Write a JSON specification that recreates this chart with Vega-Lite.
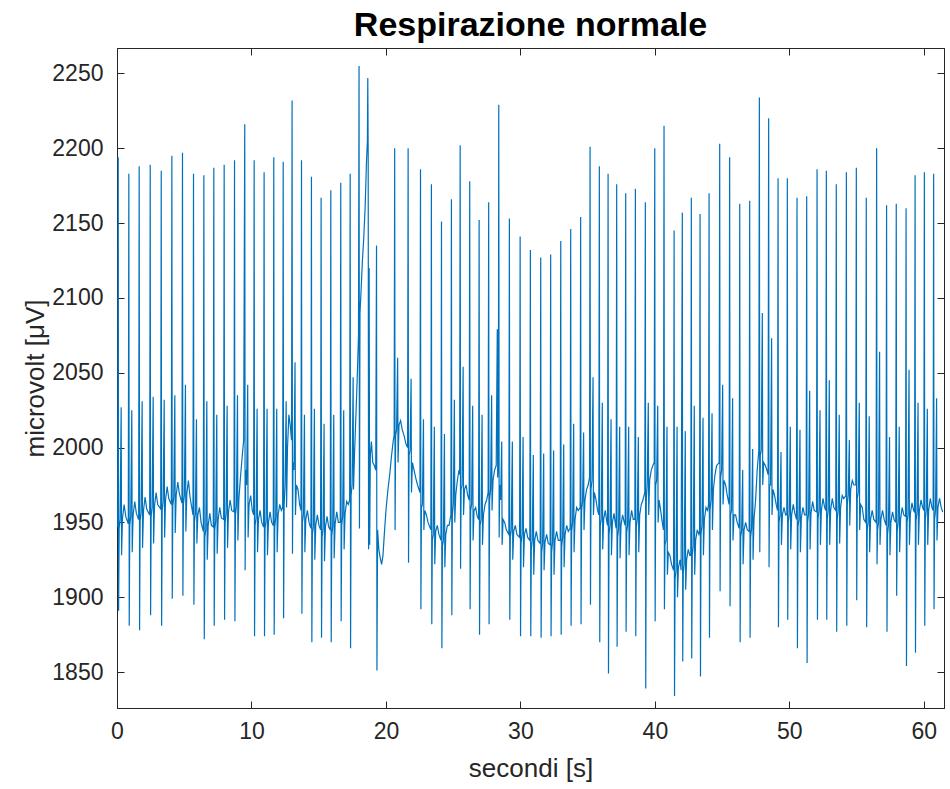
{
"$schema": "https://vega.github.io/schema/vega-lite/v6.json",
"autosize": {"type": "none"},
"padding": {"left": 117, "top": 48, "right": 5, "bottom": 81},
"width": 827,
"height": 660,
"background": "white",
"title": {"text": "Respirazione normale", "font": "Liberation Sans", "fontSize": 34, "fontWeight": "bold", "color": "#000000", "anchor": "middle", "offset": 5},
"config": {
  "view": {"stroke": "#262626", "strokeWidth": 1},
  "axis": {"domainColor": "#262626", "tickColor": "#262626", "labelColor": "#262626", "titleColor": "#262626", "labelFont": "Liberation Sans", "titleFont": "Liberation Sans", "labelFontSize": 23, "titleFontSize": 26, "titleFontWeight": "normal", "grid": false, "tickSize": -7, "labelPadding": 17, "labelFlush": false, "labelOverlap": false}
},
"data": {"values": [
{"t":0.00,"v":1952},{"t":0.05,"v":1947},{"t":0.09,"v":2194},{"t":0.12,"v":1891},{"t":0.16,"v":1946},{"t":0.23,"v":1952},{"t":0.31,"v":2027},{"t":0.34,"v":1928},{"t":0.41,"v":1953},{"t":0.53,"v":1962},{"t":0.65,"v":1954},
{"t":0.84,"v":1949},{"t":0.88,"v":2183},{"t":0.91,"v":1881},{"t":0.95,"v":1948},{"t":1.02,"v":1954},{"t":1.10,"v":2025},{"t":1.13,"v":1930},{"t":1.20,"v":1955},{"t":1.32,"v":1964},{"t":1.44,"v":1956},
{"t":1.61,"v":1952},{"t":1.65,"v":2188},{"t":1.68,"v":1878},{"t":1.72,"v":1951},{"t":1.79,"v":1957},{"t":1.87,"v":2031},{"t":1.90,"v":1933},{"t":1.97,"v":1958},{"t":2.09,"v":1967},{"t":2.21,"v":1959},
{"t":2.43,"v":1955},{"t":2.47,"v":2189},{"t":2.50,"v":1888},{"t":2.54,"v":1954},{"t":2.61,"v":1960},{"t":2.69,"v":2034},{"t":2.72,"v":1936},{"t":2.79,"v":1961},{"t":2.91,"v":1970},{"t":3.03,"v":1962},
{"t":3.25,"v":1959},{"t":3.29,"v":2185},{"t":3.32,"v":1881},{"t":3.36,"v":1958},{"t":3.43,"v":1964},{"t":3.51,"v":2032},{"t":3.54,"v":1940},{"t":3.61,"v":1965},{"t":3.73,"v":1974},{"t":3.85,"v":1966},
{"t":4.04,"v":1962},{"t":4.08,"v":2195},{"t":4.11,"v":1899},{"t":4.15,"v":1961},{"t":4.22,"v":1967},{"t":4.30,"v":2035},{"t":4.33,"v":1943},{"t":4.40,"v":1968},{"t":4.52,"v":1977},{"t":4.64,"v":1969},
{"t":4.83,"v":1963},{"t":4.87,"v":2197},{"t":4.90,"v":1901},{"t":4.94,"v":1962},{"t":5.01,"v":1968},{"t":5.09,"v":2042},{"t":5.12,"v":1944},{"t":5.19,"v":1969},{"t":5.31,"v":1978},{"t":5.43,"v":1967},
{"t":5.65,"v":1955},{"t":5.69,"v":2183},{"t":5.72,"v":1895},{"t":5.76,"v":1950},{"t":5.83,"v":1956},{"t":5.91,"v":2019},{"t":5.94,"v":1936},{"t":6.01,"v":1955},{"t":6.13,"v":1960},{"t":6.25,"v":1950},
{"t":6.42,"v":1944},{"t":6.46,"v":2182},{"t":6.49,"v":1872},{"t":6.53,"v":1940},{"t":6.60,"v":1945},{"t":6.68,"v":2031},{"t":6.71,"v":1925},{"t":6.78,"v":1948},{"t":6.90,"v":1956},{"t":7.02,"v":1948},
{"t":7.16,"v":1947},{"t":7.20,"v":2187},{"t":7.23,"v":1881},{"t":7.27,"v":1945},{"t":7.34,"v":1951},{"t":7.42,"v":2022},{"t":7.45,"v":1929},{"t":7.52,"v":1952},{"t":7.64,"v":1960},{"t":7.76,"v":1953},
{"t":7.93,"v":1952},{"t":7.97,"v":2189},{"t":8.00,"v":1885},{"t":8.04,"v":1950},{"t":8.11,"v":1956},{"t":8.19,"v":2028},{"t":8.22,"v":1933},{"t":8.29,"v":1957},{"t":8.41,"v":1965},{"t":8.53,"v":1958},
{"t":8.70,"v":1957},{"t":8.74,"v":2192},{"t":8.77,"v":1884},{"t":8.81,"v":1955},{"t":8.88,"v":1961},{"t":8.96,"v":2035},{"t":8.99,"v":1938},{"t":9.06,"v":1965},{"t":9.18,"v":1980},{"t":9.30,"v":1993},{"t":9.42,"v":2005},
{"t":9.50,"v":2216},{"t":9.53,"v":1918},{"t":9.57,"v":1985},{"t":9.64,"v":1975},{"t":9.72,"v":2042},{"t":9.75,"v":1940},{"t":9.82,"v":1962},{"t":9.94,"v":1968},{"t":10.06,"v":1958},{"t":10.16,"v":1955},
{"t":10.20,"v":2192},{"t":10.23,"v":1874},{"t":10.27,"v":1948},{"t":10.34,"v":1953},{"t":10.42,"v":2026},{"t":10.45,"v":1930},{"t":10.52,"v":1952},{"t":10.64,"v":1958},{"t":10.76,"v":1950},{"t":10.90,"v":1947},
{"t":10.94,"v":2184},{"t":10.97,"v":1874},{"t":11.01,"v":1946},{"t":11.08,"v":1951},{"t":11.16,"v":2026},{"t":11.19,"v":1928},{"t":11.26,"v":1950},{"t":11.38,"v":1957},{"t":11.50,"v":1950},{"t":11.62,"v":1948},
{"t":11.66,"v":2194},{"t":11.69,"v":1875},{"t":11.73,"v":1947},{"t":11.80,"v":1953},{"t":11.88,"v":2026},{"t":11.91,"v":1930},{"t":11.98,"v":1955},{"t":12.10,"v":1962},{"t":12.22,"v":1958},{"t":12.32,"v":1960},
{"t":12.36,"v":2191},{"t":12.39,"v":1886},{"t":12.43,"v":1962},{"t":12.50,"v":1975},{"t":12.58,"v":2031},{"t":12.61,"v":1960},{"t":12.68,"v":2000},{"t":12.78,"v":2022},{"t":12.88,"v":2015},{"t":12.98,"v":2005},
{"t":13.02,"v":2232},{"t":13.05,"v":1929},{"t":13.09,"v":1990},{"t":13.16,"v":1985},{"t":13.24,"v":2057},{"t":13.27,"v":1955},{"t":13.34,"v":1975},{"t":13.46,"v":1972},{"t":13.58,"v":1962},{"t":13.68,"v":1958},
{"t":13.72,"v":2192},{"t":13.75,"v":1889},{"t":13.79,"v":1950},{"t":13.86,"v":1955},{"t":13.94,"v":2022},{"t":13.97,"v":1930},{"t":14.04,"v":1952},{"t":14.16,"v":1958},{"t":14.28,"v":1950},{"t":14.42,"v":1946},
{"t":14.46,"v":2181},{"t":14.49,"v":1870},{"t":14.53,"v":1942},{"t":14.60,"v":1947},{"t":14.68,"v":2026},{"t":14.71,"v":1925},{"t":14.78,"v":1948},{"t":14.90,"v":1955},{"t":15.02,"v":1948},{"t":15.14,"v":1945},
{"t":15.18,"v":2167},{"t":15.21,"v":1873},{"t":15.25,"v":1940},{"t":15.32,"v":1946},{"t":15.40,"v":2016},{"t":15.43,"v":1924},{"t":15.50,"v":1947},{"t":15.62,"v":1954},{"t":15.74,"v":1947},{"t":15.86,"v":1945},
{"t":15.90,"v":2172},{"t":15.93,"v":1870},{"t":15.97,"v":1941},{"t":16.04,"v":1947},{"t":16.12,"v":2022},{"t":16.15,"v":1926},{"t":16.22,"v":1949},{"t":16.34,"v":1957},{"t":16.46,"v":1950},{"t":16.60,"v":1950},
{"t":16.64,"v":2177},{"t":16.67,"v":1884},{"t":16.71,"v":1948},{"t":16.78,"v":1954},{"t":16.86,"v":2025},{"t":16.89,"v":1932},{"t":16.96,"v":1956},{"t":17.08,"v":1964},{"t":17.20,"v":1962},{"t":17.30,"v":1965},
{"t":17.34,"v":2183},{"t":17.37,"v":1866},{"t":17.41,"v":1968},{"t":17.48,"v":1975},{"t":17.56,"v":2047},{"t":17.59,"v":1972},{"t":17.66,"v":1995},{"t":17.76,"v":2020},{"t":17.86,"v":2045},{"t":17.96,"v":2075},
{"t":18.00,"v":2255},{"t":18.03,"v":1946},{"t":18.07,"v":2090},{"t":18.15,"v":2105},{"t":18.25,"v":2125},{"t":18.35,"v":2140},{"t":18.45,"v":2160},{"t":18.55,"v":2190},{"t":18.62,"v":2205},
{"t":18.65,"v":2247},{"t":18.68,"v":2195},{"t":18.71,"v":1932},{"t":18.75,"v":2120},{"t":18.79,"v":1935},{"t":18.84,"v":1995},{"t":18.92,"v":2004},{"t":19.02,"v":1990},{"t":19.14,"v":1988},{"t":19.24,"v":1985},
{"t":19.30,"v":2135},{"t":19.33,"v":1851},{"t":19.38,"v":1945},{"t":19.47,"v":1932},{"t":19.58,"v":1926},{"t":19.68,"v":1922},{"t":19.78,"v":1928},{"t":19.90,"v":1945},{"t":20.02,"v":1960},{"t":20.15,"v":1972},{"t":20.28,"v":1982},{"t":20.42,"v":1995},{"t":20.55,"v":2005},{"t":20.61,"v":2008},
{"t":20.65,"v":2200},{"t":20.68,"v":1945},{"t":20.72,"v":2008},{"t":20.79,"v":2012},{"t":20.87,"v":2060},{"t":20.90,"v":1990},{"t":20.97,"v":2015},{"t":21.09,"v":2018},{"t":21.21,"v":2012},{"t":21.35,"v":2008},{"t":21.50,"v":2002},{"t":21.61,"v":2000},
{"t":21.65,"v":2200},{"t":21.68,"v":1923},{"t":21.72,"v":1995},{"t":21.79,"v":1998},{"t":21.87,"v":2046},{"t":21.90,"v":1970},{"t":21.97,"v":1990},{"t":22.09,"v":1985},{"t":22.21,"v":1980},{"t":22.35,"v":1975},{"t":22.53,"v":1970},
{"t":22.57,"v":2186},{"t":22.60,"v":1892},{"t":22.64,"v":1960},{"t":22.71,"v":1962},{"t":22.79,"v":2019},{"t":22.82,"v":1945},{"t":22.89,"v":1958},{"t":23.01,"v":1955},{"t":23.13,"v":1950},{"t":23.34,"v":1945},
{"t":23.38,"v":2176},{"t":23.41,"v":1882},{"t":23.45,"v":1938},{"t":23.52,"v":1942},{"t":23.60,"v":2014},{"t":23.63,"v":1922},{"t":23.70,"v":1944},{"t":23.82,"v":1948},{"t":23.94,"v":1942},{"t":24.09,"v":1938},
{"t":24.13,"v":2151},{"t":24.16,"v":1866},{"t":24.20,"v":1934},{"t":24.27,"v":1938},{"t":24.35,"v":2009},{"t":24.38,"v":1920},{"t":24.45,"v":1942},{"t":24.57,"v":1948},{"t":24.69,"v":1948},{"t":24.83,"v":1955},
{"t":24.87,"v":2166},{"t":24.90,"v":1888},{"t":24.94,"v":1955},{"t":25.01,"v":1962},{"t":25.09,"v":2032},{"t":25.12,"v":1950},{"t":25.19,"v":1968},{"t":25.31,"v":1978},{"t":25.43,"v":1985},{"t":25.48,"v":1982},
{"t":25.52,"v":2202},{"t":25.55,"v":1919},{"t":25.59,"v":1972},{"t":25.66,"v":1975},{"t":25.74,"v":2054},{"t":25.77,"v":1955},{"t":25.84,"v":1972},{"t":25.96,"v":1975},{"t":26.08,"v":1968},{"t":26.19,"v":1965},
{"t":26.23,"v":2178},{"t":26.26,"v":1892},{"t":26.30,"v":1958},{"t":26.37,"v":1962},{"t":26.45,"v":2028},{"t":26.48,"v":1938},{"t":26.55,"v":1958},{"t":26.67,"v":1960},{"t":26.79,"v":1954},{"t":26.89,"v":1952},
{"t":26.93,"v":2152},{"t":26.96,"v":1875},{"t":27.00,"v":1948},{"t":27.07,"v":1952},{"t":27.15,"v":2022},{"t":27.18,"v":1935},{"t":27.25,"v":1955},{"t":27.37,"v":1962},{"t":27.49,"v":1965},{"t":27.60,"v":1970},
{"t":27.64,"v":2164},{"t":27.67,"v":1882},{"t":27.71,"v":1965},{"t":27.78,"v":1972},{"t":27.86,"v":2035},{"t":27.89,"v":1958},{"t":27.96,"v":1978},{"t":28.08,"v":1985},{"t":28.20,"v":1988},{"t":28.28,"v":2079},{"t":28.31,"v":1980},{"t":28.36,"v":1990},
{"t":28.39,"v":2229},{"t":28.42,"v":1940},{"t":28.46,"v":1975},{"t":28.53,"v":1965},{"t":28.61,"v":2004},{"t":28.64,"v":1935},{"t":28.71,"v":1952},{"t":28.83,"v":1950},{"t":28.95,"v":1945},{"t":29.14,"v":1942},
{"t":29.18,"v":2153},{"t":29.21,"v":1885},{"t":29.25,"v":1940},{"t":29.32,"v":1945},{"t":29.40,"v":2004},{"t":29.43,"v":1925},{"t":29.50,"v":1944},{"t":29.62,"v":1948},{"t":29.74,"v":1942},{"t":29.94,"v":1940},
{"t":29.98,"v":2141},{"t":30.01,"v":1874},{"t":30.05,"v":1936},{"t":30.12,"v":1942},{"t":30.20,"v":2007},{"t":30.23,"v":1920},{"t":30.30,"v":1942},{"t":30.42,"v":1946},{"t":30.54,"v":1940},{"t":30.70,"v":1938},
{"t":30.74,"v":2132},{"t":30.77,"v":1874},{"t":30.81,"v":1932},{"t":30.88,"v":1938},{"t":30.96,"v":1995},{"t":30.99,"v":1915},{"t":31.06,"v":1938},{"t":31.18,"v":1944},{"t":31.30,"v":1938},{"t":31.47,"v":1936},
{"t":31.51,"v":2127},{"t":31.54,"v":1873},{"t":31.58,"v":1930},{"t":31.65,"v":1936},{"t":31.73,"v":1996},{"t":31.76,"v":1918},{"t":31.83,"v":1937},{"t":31.95,"v":1942},{"t":32.07,"v":1936},{"t":32.21,"v":1935},
{"t":32.25,"v":2129},{"t":32.28,"v":1874},{"t":32.32,"v":1930},{"t":32.39,"v":1937},{"t":32.47,"v":1998},{"t":32.50,"v":1915},{"t":32.57,"v":1938},{"t":32.69,"v":1944},{"t":32.81,"v":1938},{"t":32.96,"v":1938},
{"t":33.00,"v":2138},{"t":33.03,"v":1875},{"t":33.07,"v":1934},{"t":33.14,"v":1940},{"t":33.22,"v":2002},{"t":33.25,"v":1920},{"t":33.32,"v":1942},{"t":33.44,"v":1948},{"t":33.56,"v":1944},{"t":33.70,"v":1946},
{"t":33.74,"v":2146},{"t":33.77,"v":1881},{"t":33.81,"v":1944},{"t":33.88,"v":1950},{"t":33.96,"v":2016},{"t":33.99,"v":1930},{"t":34.06,"v":1952},{"t":34.18,"v":1960},{"t":34.30,"v":1958},{"t":34.44,"v":1960},
{"t":34.48,"v":2154},{"t":34.51,"v":1882},{"t":34.55,"v":1958},{"t":34.62,"v":1964},{"t":34.70,"v":2010},{"t":34.73,"v":1945},{"t":34.80,"v":1965},{"t":34.92,"v":1972},{"t":35.04,"v":1975},{"t":35.14,"v":1980},
{"t":35.18,"v":2201},{"t":35.21,"v":1895},{"t":35.25,"v":1972},{"t":35.32,"v":1978},{"t":35.40,"v":2047},{"t":35.43,"v":1955},{"t":35.50,"v":1970},{"t":35.62,"v":1965},{"t":35.74,"v":1958},{"t":35.83,"v":1955},
{"t":35.87,"v":2188},{"t":35.90,"v":1870},{"t":35.94,"v":1948},{"t":36.01,"v":1952},{"t":36.09,"v":2030},{"t":36.12,"v":1932},{"t":36.19,"v":1952},{"t":36.31,"v":1958},{"t":36.43,"v":1950},{"t":36.48,"v":1948},
{"t":36.52,"v":2183},{"t":36.55,"v":1849},{"t":36.59,"v":1942},{"t":36.66,"v":1948},{"t":36.74,"v":2019},{"t":36.77,"v":1928},{"t":36.84,"v":1950},{"t":36.96,"v":1956},{"t":37.08,"v":1948},{"t":37.12,"v":1946},
{"t":37.16,"v":2176},{"t":37.19,"v":1867},{"t":37.23,"v":1940},{"t":37.30,"v":1946},{"t":37.38,"v":2014},{"t":37.41,"v":1926},{"t":37.48,"v":1948},{"t":37.60,"v":1955},{"t":37.72,"v":1950},{"t":37.79,"v":1948},
{"t":37.83,"v":2170},{"t":37.86,"v":1877},{"t":37.90,"v":1943},{"t":37.97,"v":1948},{"t":38.05,"v":2014},{"t":38.08,"v":1928},{"t":38.15,"v":1950},{"t":38.27,"v":1958},{"t":38.39,"v":1952},{"t":38.51,"v":1952},
{"t":38.55,"v":2173},{"t":38.58,"v":1874},{"t":38.62,"v":1947},{"t":38.69,"v":1952},{"t":38.77,"v":2007},{"t":38.80,"v":1930},{"t":38.87,"v":1955},{"t":38.99,"v":1962},{"t":39.11,"v":1965},{"t":39.25,"v":1970},
{"t":39.29,"v":2164},{"t":39.32,"v":1839},{"t":39.36,"v":1965},{"t":39.43,"v":1975},{"t":39.51,"v":2030},{"t":39.54,"v":1955},{"t":39.61,"v":1978},{"t":39.73,"v":1985},{"t":39.85,"v":1988},{"t":39.95,"v":1990},
{"t":39.99,"v":2200},{"t":40.02,"v":1884},{"t":40.06,"v":1975},{"t":40.13,"v":1978},{"t":40.21,"v":2028},{"t":40.24,"v":1950},{"t":40.31,"v":1965},{"t":40.43,"v":1958},{"t":40.55,"v":1950},{"t":40.64,"v":1945},
{"t":40.68,"v":2215},{"t":40.71,"v":1892},{"t":40.75,"v":1935},{"t":40.82,"v":1938},{"t":40.90,"v":2014},{"t":40.93,"v":1915},{"t":41.00,"v":1930},{"t":41.12,"v":1928},{"t":41.24,"v":1922},{"t":41.39,"v":1918},
{"t":41.43,"v":2145},{"t":41.46,"v":1834},{"t":41.50,"v":1912},{"t":41.57,"v":1918},{"t":41.65,"v":2014},{"t":41.68,"v":1900},{"t":41.75,"v":1920},{"t":41.87,"v":1925},{"t":41.95,"v":1918},
{"t":42.04,"v":2157},{"t":42.07,"v":1857},{"t":42.11,"v":1916},{"t":42.18,"v":1922},{"t":42.26,"v":2011},{"t":42.29,"v":1905},{"t":42.36,"v":1925},{"t":42.48,"v":1932},{"t":42.60,"v":1928},{"t":42.67,"v":1928},
{"t":42.71,"v":2167},{"t":42.74,"v":1859},{"t":42.78,"v":1928},{"t":42.85,"v":1934},{"t":42.93,"v":2028},{"t":42.96,"v":1915},{"t":43.03,"v":1938},{"t":43.15,"v":1945},{"t":43.27,"v":1942},{"t":43.32,"v":1944},
{"t":43.36,"v":2156},{"t":43.39,"v":1847},{"t":43.43,"v":1942},{"t":43.50,"v":1948},{"t":43.58,"v":2020},{"t":43.61,"v":1928},{"t":43.68,"v":1952},{"t":43.80,"v":1960},{"t":43.92,"v":1958},{"t":43.99,"v":1962},
{"t":44.03,"v":2170},{"t":44.06,"v":1873},{"t":44.10,"v":1958},{"t":44.17,"v":1965},{"t":44.25,"v":2023},{"t":44.28,"v":1945},{"t":44.35,"v":1972},{"t":44.47,"v":1982},{"t":44.59,"v":1988},{"t":44.78,"v":1990},
{"t":44.82,"v":2203},{"t":44.85,"v":1904},{"t":44.89,"v":1980},{"t":44.96,"v":1985},{"t":45.04,"v":2042},{"t":45.07,"v":1962},{"t":45.14,"v":1978},{"t":45.26,"v":1975},{"t":45.38,"v":1968},{"t":45.52,"v":1962},
{"t":45.56,"v":2194},{"t":45.59,"v":1894},{"t":45.63,"v":1955},{"t":45.70,"v":1958},{"t":45.78,"v":2033},{"t":45.81,"v":1938},{"t":45.88,"v":1955},{"t":46.00,"v":1955},{"t":46.12,"v":1950},{"t":46.27,"v":1946},
{"t":46.31,"v":2163},{"t":46.34,"v":1870},{"t":46.38,"v":1940},{"t":46.45,"v":1945},{"t":46.53,"v":1985},{"t":46.56,"v":1922},{"t":46.63,"v":1945},{"t":46.75,"v":1950},{"t":46.87,"v":1945},{"t":47.01,"v":1944},
{"t":47.05,"v":2165},{"t":47.08,"v":1873},{"t":47.12,"v":1940},{"t":47.19,"v":1946},{"t":47.27,"v":1999},{"t":47.30,"v":1925},{"t":47.37,"v":1952},{"t":47.49,"v":1965},{"t":47.61,"v":1985},{"t":47.73,"v":1998},
{"t":47.77,"v":2234},{"t":47.80,"v":1930},{"t":47.84,"v":1995},{"t":47.91,"v":1998},{"t":47.99,"v":2090},{"t":48.02,"v":1975},{"t":48.09,"v":1990},{"t":48.21,"v":1988},{"t":48.33,"v":1985},{"t":48.42,"v":1982},
{"t":48.46,"v":2220},{"t":48.49,"v":1920},{"t":48.53,"v":1975},{"t":48.60,"v":1975},{"t":48.68,"v":2073},{"t":48.71,"v":1955},{"t":48.78,"v":1972},{"t":48.90,"v":1968},{"t":49.02,"v":1962},{"t":49.12,"v":1958},
{"t":49.16,"v":2180},{"t":49.19,"v":1880},{"t":49.23,"v":1950},{"t":49.30,"v":1955},{"t":49.38,"v":1997},{"t":49.41,"v":1935},{"t":49.48,"v":1955},{"t":49.60,"v":1960},{"t":49.72,"v":1955},{"t":49.81,"v":1955},
{"t":49.85,"v":2180},{"t":49.88,"v":1885},{"t":49.92,"v":1950},{"t":49.99,"v":1955},{"t":50.07,"v":2014},{"t":50.10,"v":1932},{"t":50.17,"v":1955},{"t":50.29,"v":1962},{"t":50.41,"v":1956},{"t":50.53,"v":1952},
{"t":50.57,"v":2167},{"t":50.60,"v":1866},{"t":50.64,"v":1947},{"t":50.71,"v":1952},{"t":50.79,"v":2012},{"t":50.82,"v":1930},{"t":50.89,"v":1953},{"t":51.01,"v":1960},{"t":51.13,"v":1955},{"t":51.25,"v":1955},
{"t":51.29,"v":2168},{"t":51.32,"v":1856},{"t":51.36,"v":1950},{"t":51.43,"v":1956},{"t":51.51,"v":2038},{"t":51.54,"v":1932},{"t":51.61,"v":1956},{"t":51.73,"v":1964},{"t":51.85,"v":1958},{"t":52.02,"v":1957},
{"t":52.06,"v":2186},{"t":52.09,"v":1885},{"t":52.13,"v":1952},{"t":52.20,"v":1958},{"t":52.28,"v":2025},{"t":52.31,"v":1935},{"t":52.38,"v":1958},{"t":52.50,"v":1966},{"t":52.62,"v":1960},{"t":52.71,"v":1958},
{"t":52.75,"v":2185},{"t":52.78,"v":1885},{"t":52.82,"v":1952},{"t":52.89,"v":1958},{"t":52.97,"v":2045},{"t":53.00,"v":1935},{"t":53.07,"v":1958},{"t":53.19,"v":1966},{"t":53.31,"v":1960},{"t":53.45,"v":1958},
{"t":53.49,"v":2176},{"t":53.52,"v":1877},{"t":53.56,"v":1952},{"t":53.63,"v":1958},{"t":53.71,"v":2022},{"t":53.74,"v":1936},{"t":53.81,"v":1960},{"t":53.93,"v":1968},{"t":54.05,"v":1966},{"t":54.20,"v":1968},
{"t":54.24,"v":2184},{"t":54.27,"v":1881},{"t":54.31,"v":1962},{"t":54.38,"v":1968},{"t":54.46,"v":2005},{"t":54.49,"v":1948},{"t":54.56,"v":1972},{"t":54.68,"v":1978},{"t":54.80,"v":1975},{"t":54.94,"v":1975},
{"t":54.98,"v":2187},{"t":55.01,"v":1898},{"t":55.05,"v":1966},{"t":55.12,"v":1970},{"t":55.20,"v":2030},{"t":55.23,"v":1945},{"t":55.30,"v":1962},{"t":55.42,"v":1960},{"t":55.54,"v":1952},{"t":55.68,"v":1950},
{"t":55.72,"v":2167},{"t":55.75,"v":1880},{"t":55.79,"v":1945},{"t":55.86,"v":1950},{"t":55.94,"v":2021},{"t":55.97,"v":1930},{"t":56.04,"v":1952},{"t":56.16,"v":1958},{"t":56.28,"v":1952},{"t":56.45,"v":1950},
{"t":56.49,"v":2200},{"t":56.52,"v":1922},{"t":56.56,"v":1945},{"t":56.63,"v":1950},{"t":56.71,"v":2064},{"t":56.74,"v":1935},{"t":56.81,"v":1952},{"t":56.93,"v":1958},{"t":57.05,"v":1952},{"t":57.19,"v":1948},
{"t":57.23,"v":2162},{"t":57.26,"v":1877},{"t":57.30,"v":1942},{"t":57.37,"v":1948},{"t":57.45,"v":2007},{"t":57.48,"v":1928},{"t":57.55,"v":1950},{"t":57.67,"v":1957},{"t":57.79,"v":1952},{"t":57.91,"v":1950},
{"t":57.95,"v":2163},{"t":57.98,"v":1901},{"t":58.02,"v":1944},{"t":58.09,"v":1950},{"t":58.17,"v":2014},{"t":58.20,"v":1930},{"t":58.27,"v":1952},{"t":58.39,"v":1960},{"t":58.51,"v":1955},{"t":58.64,"v":1954},
{"t":58.68,"v":2160},{"t":58.71,"v":1854},{"t":58.75,"v":1950},{"t":58.82,"v":1955},{"t":58.90,"v":2052},{"t":58.93,"v":1935},{"t":59.00,"v":1956},{"t":59.12,"v":1963},{"t":59.24,"v":1958},{"t":59.31,"v":1957},
{"t":59.35,"v":2182},{"t":59.38,"v":1863},{"t":59.42,"v":1951},{"t":59.49,"v":1957},{"t":59.57,"v":2030},{"t":59.60,"v":1935},{"t":59.67,"v":1958},{"t":59.79,"v":1965},{"t":59.91,"v":1960},{"t":60.00,"v":1958},
{"t":60.04,"v":2184},{"t":60.07,"v":1881},{"t":60.11,"v":1952},{"t":60.18,"v":1958},{"t":60.26,"v":2026},{"t":60.29,"v":1935},{"t":60.36,"v":1958},{"t":60.48,"v":1966},{"t":60.60,"v":1960},{"t":60.69,"v":1958},
{"t":60.73,"v":2183},{"t":60.76,"v":1892},{"t":60.80,"v":1952},{"t":60.87,"v":1958},{"t":60.95,"v":2033},{"t":60.98,"v":1938},{"t":61.05,"v":1960},{"t":61.17,"v":1966},{"t":61.29,"v":1960},{"t":61.40,"v":1957}
]},
"layer": [
  {
    "mark": {"type": "line", "color": "#0072BD", "strokeWidth": 1.2, "clip": true},
    "encoding": {
      "x": {"field": "t", "type": "quantitative", "scale": {"domain": [0, 61.5], "nice": false, "zero": false},
            "axis": {"orient": "bottom", "title": "secondi [s]", "values": [0,10,20,30,40,50,60], "format": "d", "titlePadding": 12, "labelPadding": 19}},
      "y": {"field": "v", "type": "quantitative", "scale": {"domain": [1826, 2267], "nice": false, "zero": false},
            "axis": {"orient": "left", "title": "microvolt [μV]", "values": [1850,1900,1950,2000,2050,2100,2150,2200,2250], "format": "d", "titlePadding": 3, "labelPadding": 21}}
    }
  },
  {
    "mark": {"type": "line", "opacity": 0},
    "encoding": {
      "x": {"field": "t", "type": "quantitative", "axis": {"orient": "top", "labels": false, "title": null, "values": [0,10,20,30,40,50,60]}},
      "y": {"field": "v", "type": "quantitative", "axis": {"orient": "right", "labels": false, "title": null, "values": [1850,1900,1950,2000,2050,2100,2150,2200,2250]}}
    }
  }
],
"resolve": {"axis": {"x": "independent", "y": "independent"}}
}
